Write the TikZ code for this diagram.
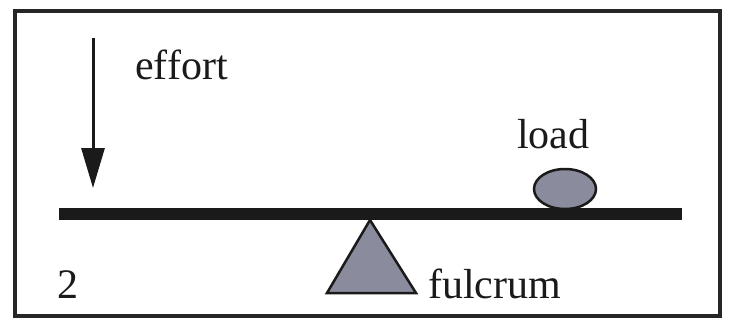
\documentclass[tikz,border=0pt]{standalone}
\usepackage{fontspec}
\setmainfont{Liberation Serif}
\usetikzlibrary{arrows.meta,shapes.geometric}
\definecolor{partgray}{HTML}{8A8C9E}
\definecolor{inkdark}{HTML}{1A1A1A}
\tikzset{
  label text/.style={font=\fontsize{42}{50}\selectfont, inner sep=0pt, anchor=base west, text=inkdark},
  part/.style={draw=inkdark, fill=partgray, line width=2.5pt},
}
\begin{document}
\begin{tikzpicture}[x=1pt,y=-1pt]
  \useasboundingbox (0,0) rectangle (730,321);
  % outer frame
  \draw[line width=3.5pt, draw=black!85] (15,11) rectangle (720,316);
  % lever bar
  \coordinate (barL) at (59,214);
  \coordinate (barR) at (682,214);
  \draw[line width=12pt, draw=inkdark] (barL) -- (barR);
  % fulcrum
  \path[part, line join=miter]
    (370,220) coordinate (apex) -- (416,293) -- (327,293) -- cycle;
  % load
  \node[part, ellipse, minimum width=62pt, minimum height=40pt, inner sep=0pt] (load) at (565,189) {};
  % effort arrow
  \coordinate (effTop) at (93,38);
  \coordinate (effTip) at (93,188);
  \draw[line width=3pt, draw=inkdark, -{Triangle[width=23pt,length=40pt]}] (effTop) -- (effTip);
  % labels
  \node[label text] (efft) at (135,79) {effort};
  \node[label text] (loadt) at (517,148) {load};
  \node[label text] (fulct) at (428,298) {fulcrum};
  \node[label text] (num) at (57,298) {2};
\end{tikzpicture}
\end{document}
